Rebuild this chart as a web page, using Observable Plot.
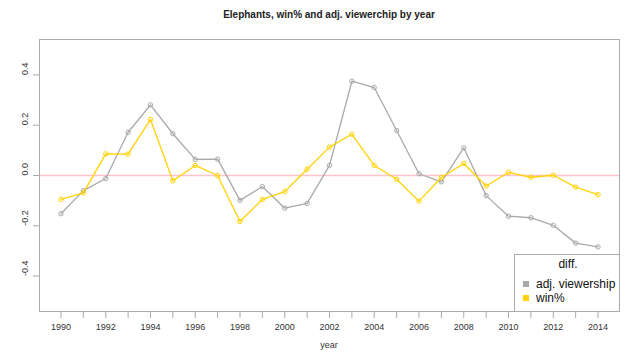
<!DOCTYPE html>
<html>
<head>
<meta charset="utf-8">
<script src="https://cdn.jsdelivr.net/npm/d3@7"></script>
<script src="https://cdn.jsdelivr.net/npm/@observablehq/plot@0.6"></script>
<style>
  html, body { margin: 0; padding: 0; background: #fff; }
  #wrap { position: relative; width: 640px; height: 360px; font-family: "Liberation Sans", Arial, sans-serif; }
  #title { position: absolute; left: 0; top: 9px; width: 658px; text-align: center; font-weight: bold; font-size: 10px; color: #222; }
  #legend { position: absolute; left: 514px; top: 254px; width: 104px; height: 56px; background: #fff; border: 1px solid #aaa; border-right: none; border-bottom: none; font-size: 12px; color: #111; }
  #legend .t { text-align: center; margin-top: 2px; line-height: 14px; padding-left: 2px; }
  #legend .t2 { height: 6px; }
  #legend .row { display: flex; align-items: center; height: 14px; margin-left: 8px; line-height: 14px; }
  #legend .sw { width: 6px; height: 6px; margin-right: 7px; }
  #xlabel { position: absolute; left: 0; width: 658px; top: 340px; text-align: center; font-size: 9px; color: #333; }
</style>
</head>
<body>
<div id="wrap">
  <div id="chart"></div>
  <div id="title"></div>
  <div id="xlabel">year</div>
  <div id="legend"></div>
</div>
<script>
const title = "Elephants, win% and adj. viewerchip by year";
const years = [1990,1991,1992,1993,1994,1995,1996,1997,1998,1999,2000,2001,2002,2003,2004,2005,2006,2007,2008,2009,2010,2011,2012,2013,2014];
const viewership = [-0.152,-0.060,-0.012,0.172,0.281,0.166,0.064,0.065,-0.099,-0.044,-0.130,-0.111,0.040,0.375,0.350,0.179,0.007,-0.025,0.110,-0.080,-0.162,-0.168,-0.198,-0.269,-0.284];
const winPct = [-0.095,-0.069,0.086,0.085,0.223,-0.021,0.040,0.000,-0.183,-0.095,-0.064,0.025,0.113,0.164,0.040,-0.015,-0.102,-0.008,0.048,-0.042,0.012,-0.007,0.001,-0.046,-0.076];
const seriesNames = ["adj. viewership", "win%"];
const seriesColors = ["#a9a9a9", "#ffd200"];
const refLine = [0];
const yTicks = [-0.4, -0.2, 0.0, 0.2, 0.4];
const legendTitle = "diff.";

document.getElementById("title").textContent = title;

const data = [];
years.forEach((yr, i) => {
  data.push({year: yr, value: viewership[i], series: seriesNames[0]});
});
years.forEach((yr, i) => {
  data.push({year: yr, value: winPct[i], series: seriesNames[1]});
});

const colorOf = s => seriesColors[seriesNames.indexOf(s)];

const chart = Plot.plot({
  width: 640,
  height: 360,
  marginLeft: 39,
  marginRight: 21,
  marginTop: 39,
  marginBottom: 49,
  style: {fontFamily: "Liberation Sans, Arial, sans-serif", fontSize: "9px", color: "#333", background: "#fff"},
  x: {domain: [1989.04, 2014.96]},
  y: {domain: [-0.541, 0.541]},
  marks: [
    Plot.frame({stroke: "#aaa"}),
    Plot.ruleY(refLine, {y: d => d, stroke: "#ff9aaa", strokeOpacity: 0.6, strokeWidth: 1.3}),
    Plot.axisX({ticks: years, tickSize: 7, tickPadding: 5, stroke: "#aaa", fill: "#333",
      tickFormat: d => (d % 2 === 0 ? String(d) : ""), label: null}),
    Plot.axisY({ticks: yTicks, tickSize: 6, stroke: "#aaa", tickFormat: () => "", label: null}),
    Plot.text(yTicks, {y: d => d, text: d => d.toFixed(1), frameAnchor: "left", dx: -14, rotate: -90, fill: "#333", fontSize: 9}),
    Plot.line(data.filter(d => d.series === seriesNames[0]), {x: "year", y: "value", stroke: colorOf(seriesNames[0]), strokeWidth: 1.3}),
    Plot.dot(data.filter(d => d.series === seriesNames[0]), {x: "year", y: "value", stroke: colorOf(seriesNames[0]), r: 2.2, strokeWidth: 1}),
    Plot.line(data.filter(d => d.series === seriesNames[1]), {x: "year", y: "value", stroke: colorOf(seriesNames[1]), strokeWidth: 1.3}),
    Plot.dot(data.filter(d => d.series === seriesNames[1]), {x: "year", y: "value", stroke: colorOf(seriesNames[1]), r: 2.2, strokeWidth: 1})
  ]
});
document.getElementById("chart").appendChild(chart);

const leg = document.getElementById("legend");
const t = document.createElement("div");
t.className = "t";
t.textContent = legendTitle;
leg.appendChild(t);
const gap = document.createElement("div");
gap.className = "t2";
leg.appendChild(gap);
seriesNames.forEach((name, i) => {
  const row = document.createElement("div");
  row.className = "row";
  const sw = document.createElement("span");
  sw.className = "sw";
  sw.style.background = seriesColors[i];
  const lab = document.createElement("span");
  lab.textContent = name;
  row.appendChild(sw);
  row.appendChild(lab);
  leg.appendChild(row);
});
</script>
</body>
</html>
